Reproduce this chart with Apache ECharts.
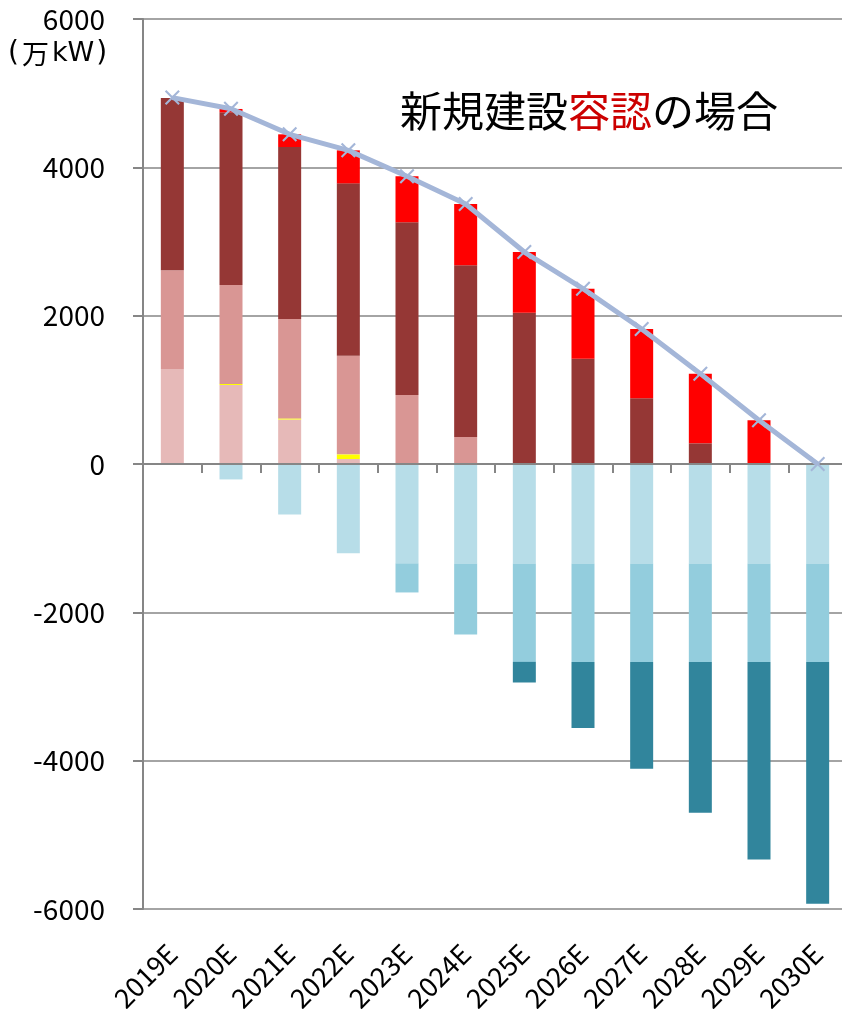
<!DOCTYPE html>
<html>
<head>
<meta charset="utf-8">
<script src="https://cdn.jsdelivr.net/npm/echarts@6/dist/echarts.min.js"></script>
<style>
  html, body { margin: 0; padding: 0; background: #fff; }
  #chart { width: 842px; height: 1009px; }
</style>
</head>
<body>
<div id="chart"></div>
<script>
// カテゴリ
var categories = ["2019E", "2020E", "2021E", "2022E", "2023E", "2024E", "2025E", "2026E", "2027E", "2028E", "2029E", "2030E"];

// プラス側（万kW）
var lightPink = [1281, 1065, 600, 67, 0, 0, 0, 0, 0, 0, 0, 0];
var yellow = [0, 15, 15, 63, 0, 0, 0, 0, 0, 0, 0, 0];
var pink = [1330, 1333, 1340, 1331, 930, 364, 0, 0, 0, 0, 0, 0];
var darkRed = [2324, 2329, 2319, 2323, 2328, 2315, 2040, 1420, 885, 279, 0, 0];
var red = [0, 45, 171, 445, 621, 827, 818, 944, 935, 939, 589, 0];

// マイナス側
var lightBlue = [0, -208, -680, -1204, -1340, -1340, -1340, -1340, -1340, -1340, -1340, -1340];
var midBlue = [0, 0, 0, 0, -392, -958, -1328, -1328, -1328, -1328, -1328, -1328];
var darkTeal = [0, 0, 0, 0, 0, 0, -278, -892, -1440, -2035, -2663, -3262];

// 合計ライン
var total = [4940, 4790, 4445, 4229, 3879, 3506, 2858, 2364, 1820, 1218, 589, 0];

var yTicks = { min: -6000, max: 6000, interval: 2000 };

var FONT = "Noto Sans CJK JP";
var LATIN = "DejaVu Sans";
var AXIS_GREY = "#868686";

function bar(name, data, color) {
  return {
    name: name,
    type: "bar",
    stack: "a",
    barWidth: 23,
    data: data,
    itemStyle: { color: color },
  };
}

var chart = echarts.init(document.getElementById("chart"));
chart.setOption({
  animation: false,
  textStyle: { fontFamily: FONT },
  grid: { left: 143, top: 19, width: 704, height: 890, containLabel: false, outerBoundsMode: "none" },
  xAxis: [
    {
      type: "category",
      data: categories,
      axisLine: { onZero: true, lineStyle: { color: AXIS_GREY, width: 2 } },
      axisTick: { show: true, length: 9, interval: 0, lineStyle: { color: AXIS_GREY, width: 2 } },
      axisLabel: { show: false },
      z: 5,
    },
    {
      type: "category",
      data: categories,
      position: "bottom",
      axisLine: { show: false, onZero: false },
      axisTick: { show: false },
      axisLabel: {
        interval: 0,
        rotate: 45,
        margin: 40,
        fontSize: 27,
        color: "#000",
        fontFamily: FONT,
      },
    },
  ],
  yAxis: {
    type: "value",
    min: yTicks.min,
    max: yTicks.max,
    interval: yTicks.interval,
    axisLine: { show: true, lineStyle: { color: AXIS_GREY, width: 2 } },
    axisTick: { show: true, length: 10, lineStyle: { color: AXIS_GREY, width: 2 } },
    splitLine: { lineStyle: { color: AXIS_GREY, width: 1.5 } },
    axisLabel: {
      fontSize: 28,
      margin: 38,
      color: "#000",
      fontFamily: FONT,
      formatter: function (v) {
        return String(v);
      },
    },
  },
  graphic: [
    {
      type: "text",
      left: 8,
      top: 40,
      style: {
        text: "{a|(}{b|万}{c|kW}{a|)}",
        rich: {
          a: { fontSize: 28, fontFamily: LATIN, fill: "#000" },
          b: { fontSize: 27, fontFamily: FONT, fill: "#000", padding: [0, 3, 0, 3] },
          c: { fontSize: 27, fontFamily: LATIN, fill: "#000", padding: [0, 2, 0, 0] },
        },
      },
    },
    {
      type: "text",
      left: 400,
      top: 90,
      style: {
        text: "{k|新規建設}{r|容認}{k|の場合}",
        rich: {
          k: { fontSize: 42, fontFamily: FONT, fill: "#000" },
          r: { fontSize: 42, fontFamily: FONT, fill: "#CC0000" },
        },
      },
    },
  ],
  series: [
    bar("lightPink", lightPink, "#E6B9B8"),
    bar("yellow", yellow, "#FFFF00"),
    bar("pink", pink, "#D99694"),
    bar("darkRed", darkRed, "#953735"),
    bar("red", red, "#FF0000"),
    bar("lightBlue", lightBlue, "#B7DDE8"),
    bar("midBlue", midBlue, "#93CDDD"),
    bar("darkTeal", darkTeal, "#31859C"),
    {
      name: "total",
      type: "line",
      data: total,
      z: 10,
      symbol: "path://M0,1L1,0L5,4L9,0L10,1L6,5L10,9L9,10L5,6L1,10L0,9L4,5Z",
      symbolSize: 15,
      lineStyle: { color: "#A4B6D8", width: 5 },
      itemStyle: { color: "#A4B6D8" },
    },
  ],
});
</script>
</body>
</html>
